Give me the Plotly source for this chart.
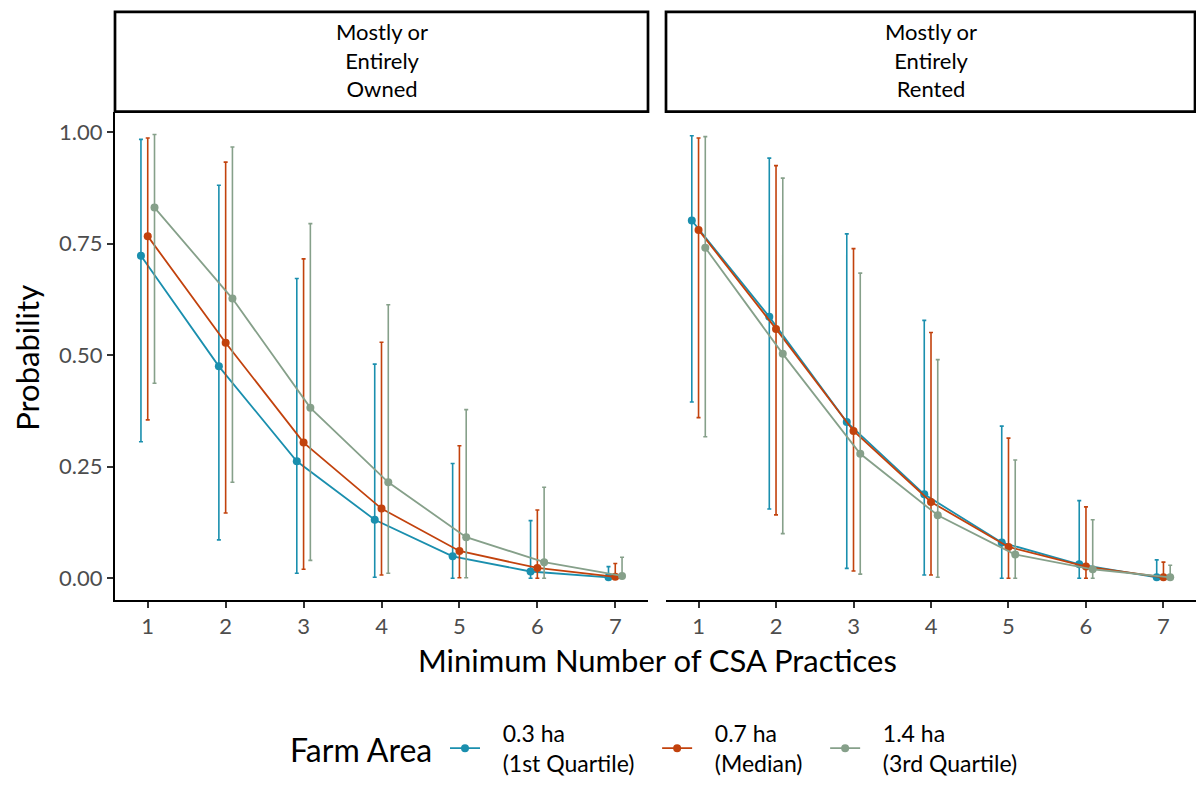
import plotly.graph_objects as go

# ---------------- data ----------------
practices = [1, 2, 3, 4, 5, 6, 7]
panels = ["Mostly or<br>Entirely<br>Owned", "Mostly or<br>Entirely<br>Rented"]
series_names = ["0.3 ha<br>(1st Quartile)", "0.7 ha<br>(Median)", "1.4 ha<br>(3rd Quartile)"]
colors = ["#1a8fae", "#c2420d", "#86a08a"]

# Owned panel
owned_est = [
    [0.723, 0.475, 0.262, 0.131, 0.049, 0.015, 0.002],
    [0.767, 0.528, 0.304, 0.156, 0.061, 0.023, 0.003],
    [0.831, 0.627, 0.382, 0.215, 0.092, 0.036, 0.005],
]
owned_hi = [
    [0.984, 0.881, 0.672, 0.480, 0.257, 0.129, 0.026],
    [0.987, 0.933, 0.716, 0.529, 0.297, 0.153, 0.033],
    [0.995, 0.967, 0.795, 0.613, 0.378, 0.204, 0.047],
]
owned_lo = [
    [0.306, 0.086, 0.011, 0.002, 0.000, 0.000, 0.000],
    [0.355, 0.146, 0.020, 0.007, 0.001, 0.000, 0.000],
    [0.437, 0.215, 0.040, 0.011, 0.001, 0.000, 0.000],
]
# Rented panel
rented_est = [
    [0.802, 0.586, 0.350, 0.188, 0.080, 0.031, 0.002],
    [0.781, 0.559, 0.330, 0.171, 0.070, 0.026, 0.002],
    [0.741, 0.503, 0.279, 0.141, 0.053, 0.020, 0.002],
]
rented_hi = [
    [0.992, 0.942, 0.772, 0.578, 0.341, 0.174, 0.041],
    [0.987, 0.925, 0.739, 0.551, 0.314, 0.160, 0.036],
    [0.990, 0.897, 0.684, 0.490, 0.265, 0.131, 0.029],
]
rented_lo = [
    [0.395, 0.155, 0.022, 0.007, 0.000, 0.000, 0.000],
    [0.360, 0.142, 0.016, 0.007, 0.000, 0.000, 0.000],
    [0.317, 0.100, 0.009, 0.002, 0.000, 0.000, 0.000],
]
y_ticks = [0.0, 0.25, 0.5, 0.75, 1.0]
y_ticklabels = ["0.00", "0.25", "0.50", "0.75", "1.00"]

# ---------------- figure ----------------
W, H = 1196, 785
FONT = "Lato"
dodge = [-0.087, 0.0, 0.087]
NB = "\u00a0"

fig = go.Figure()
panel_data = [(owned_est, owned_lo, owned_hi, "x", "y"),
              (rented_est, rented_lo, rented_hi, "x2", "y2")]
for p, (est, lo, hi, xa, ya) in enumerate(panel_data):
    for i in range(3):
        xs = [x + dodge[i] for x in practices]
        legend_label = "<br>".join(NB * 3 + part + NB * 3 for part in series_names[i].split("<br>"))
        fig.add_trace(go.Scatter(
            x=xs, y=est[i], xaxis=xa, yaxis=ya,
            mode="lines+markers",
            name=legend_label,
            legendgroup=series_names[i],
            showlegend=(p == 0),
            line=dict(color=colors[i], width=1.8),
            marker=dict(color=colors[i], size=8),
            error_y=dict(type="data", symmetric=False,
                         array=[h - e for h, e in zip(hi[i], est[i])],
                         arrayminus=[e - l for e, l in zip(est[i], lo[i])],
                         color=colors[i], thickness=1.6, width=2),
        ))

def px_x(v):
    return v / W

def px_y(v):
    return 1 - v / H

ydom = [px_y(607), px_y(113)]
xr = [0.58, 7.42]
yr = [-0.049, 1.046]
tickfont = dict(family=FONT, size=22, color="#4d4d4d")

common_x = dict(range=xr, tickvals=practices, ticktext=[str(v) for v in practices],
                showgrid=False, zeroline=False, showline=True, linecolor="black",
                linewidth=2, ticks="outside", ticklen=6, tickwidth=1.5,
                tickcolor="#333333", tickfont=tickfont)
fig.update_layout(
    xaxis=dict(domain=[px_x(115), px_x(648)], anchor="y", **common_x),
    xaxis2=dict(domain=[px_x(666), px_x(1196)], anchor="y2", **common_x),
    yaxis=dict(domain=ydom, range=yr, anchor="x", tickvals=y_ticks, ticktext=y_ticklabels,
               showgrid=False, zeroline=False, showline=True, linecolor="black", linewidth=2,
               ticks="outside", ticklen=6, tickwidth=1.5, tickcolor="#333333", tickfont=tickfont),
    yaxis2=dict(domain=ydom, range=yr, anchor="x2", showticklabels=False,
                showgrid=False, zeroline=False, showline=False),
)

# strips
strip_x = [(115, 648), (666, 1195)]
for (x0, x1), label in zip(strip_x, panels):
    fig.add_shape(type="rect", xref="paper", yref="paper",
                  x0=px_x(x0), x1=px_x(x1), y0=px_y(113), y1=px_y(12),
                  line=dict(color="black", width=2.7), fillcolor="white")
    fig.add_annotation(xref="paper", yref="paper", x=px_x((x0 + x1) / 2), y=px_y(61),
                       text=label, showarrow=False, xanchor="center", yanchor="middle",
                       font=dict(family=FONT, size=22, color="black"))

fig.add_annotation(xref="paper", yref="paper", x=px_x(657), y=px_y(668),
                   text="Minimum Number of CSA Practices", showarrow=False,
                   xanchor="center", yanchor="middle",
                   font=dict(family=FONT, size=31, color="black"))
fig.add_annotation(xref="paper", yref="paper", x=px_x(27), y=px_y(362),
                   text="Probability", showarrow=False, textangle=-90,
                   xanchor="center", yanchor="middle",
                   font=dict(family=FONT, size=31, color="black"))
# legend title
fig.add_annotation(xref="paper", yref="paper", x=px_x(288), y=px_y(758),
                   text="Farm Area", showarrow=False, xanchor="left", yanchor="middle",
                   font=dict(family=FONT, size=32, color="black"))

fig.update_layout(
    width=W, height=H,
    margin=dict(l=0, r=0, t=0, b=0),
    paper_bgcolor="white", plot_bgcolor="white",
    font=dict(family=FONT),
    legend=dict(orientation="h", x=px_x(445), xanchor="left", y=px_y(757), yanchor="middle",
                font=dict(family=FONT, size=23, color="black"),
                itemwidth=30, tracegroupgap=0),
)

post = (
    "document.documentElement.style.cssText='margin:0;padding:0;overflow:hidden;';"
    "document.body.style.cssText='margin:0;padding:0;overflow:hidden;';"
)
fig.write_html("out.html", config={"displayModeBar": False}, post_script=post)
